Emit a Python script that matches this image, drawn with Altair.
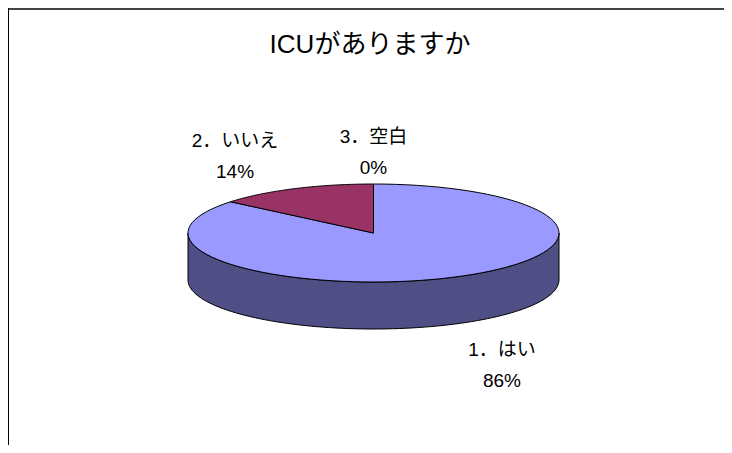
import math
import altair as alt
import pandas as pd

# ---- data ----
categories = ["1．はい", "2．いいえ", "3．空白"]
values = [86, 14, 0]
top_colors = ["#9999FF", "#993366", "#FFFFCC"]
side_colors = ["#4F4F86", "#4D1A33", "#80806A"]
title_text = "ICUがありますか"

# ---- layout / style ----
W, H = 716, 437
PX = 185.5          # pixels per unit radius
CX, CY = 365.5, 225  # pie centre in view pixels
TILT = 49 / PX
DEPTH = 47 / PX
N = 90
FONT = "Liberation Sans, Arial, 'Noto Sans CJK JP'"
LABEL_SIZE = 19
LINE_H = 31

total = sum(values)
rows = []
labels = []
start = 0.0
shape_id = 0


def pt(a):
    r = math.radians(a)
    return math.sin(r), math.cos(r) * TILT


def text_w(s):
    w = 0
    for ch in s:
        w += 20 if ord(ch) > 0x2E80 else 11
    return w


for cat, v, ct, cs in zip(categories, values, top_colors, side_colors):
    end = start + 360.0 * v / total
    # side wall (front half only)
    s, e = max(start, 90.0), min(end, 270.0)
    if e > s:
        arc = [s + (e - s) * k / N for k in range(N + 1)]
        pts = [pt(a) for a in arc] + [(x, y - DEPTH) for x, y in (pt(a) for a in reversed(arc))]
        pts.append(pts[0])
        for i, (x, y) in enumerate(pts):
            rows.append(dict(shape=f"s{shape_id}", i=i, x=x, y=y, fill=cs, layer=0))
        shape_id += 1
    # top face
    if end > start:
        arc = [start + (end - start) * k / N for k in range(N + 1)]
        pts = [(0.0, 0.0)] + [pt(a) for a in arc] + [(0.0, 0.0)]
        for i, (x, y) in enumerate(pts):
            rows.append(dict(shape=f"t{shape_id}", i=i, x=x, y=y, fill=ct, layer=1))
        shape_id += 1
    # label (anchor = first line)
    mid = (start + end) / 2
    ex, ey = pt(mid)
    c = math.cos(math.radians(mid))
    front = c < 0
    if front:
        ey -= DEPTH
    sn = math.sin(math.radians(mid))
    sx = 0 if abs(sn) < 0.05 else (1 if sn > 0 else -1)
    hw = text_w(cat) / 2
    lx = ex + sx * (14 + hw) / PX
    ly = ey + (-41 if front else 32) / PX + (LINE_H / 2) / PX
    labels.append(dict(x=lx, y=ly, text=f"{cat}\n{round(100 * v / total)}%"))
    start = end

df = pd.DataFrame(rows)
lab = pd.DataFrame(labels)

xs = alt.Scale(domain=[-CX / PX, (W - CX) / PX], nice=False, zero=False)
ys = alt.Scale(domain=[-(H - CY) / PX, CY / PX], nice=False, zero=False)


def faces(d):
    return alt.Chart(d).mark_line(
        filled=True, stroke="black", strokeWidth=1, strokeJoin="round"
    ).encode(
        x=alt.X("x:Q", scale=xs, axis=None),
        y=alt.Y("y:Q", scale=ys, axis=None),
        detail="shape:N",
        order="i:Q",
        color=alt.Color("fill:N", scale=None),
    )


sides = faces(df[df.layer == 0])
tops = faces(df[df.layer == 1])

text = alt.Chart(lab).mark_text(
    font=FONT, fontSize=LABEL_SIZE, lineBreak="\n", lineHeight=LINE_H,
    align="center", baseline="middle", color="black"
).encode(
    x=alt.X("x:Q", scale=xs, axis=None),
    y=alt.Y("y:Q", scale=ys, axis=None),
    text="text:N",
)
title = alt.Chart(pd.DataFrame({"t": [title_text]})).mark_text(
    font=FONT, fontSize=26, align="center", baseline="middle", color="black"
).encode(x=alt.value(362), y=alt.value(37), text="t:N")

top_border = alt.Chart(lab).mark_rule(color="#444444", strokeWidth=2).encode(
    x=alt.value(0), x2=alt.value(W), y=alt.value(1)
)
left_border = alt.Chart(lab).mark_rule(color="black", strokeWidth=1).encode(
    x=alt.value(0.5), y=alt.value(0), y2=alt.value(H)
)

chart = alt.layer(sides, tops, text, title, top_border, left_border).properties(
    width=W, height=H,
    padding=0,
    autosize=alt.AutoSizeParams(type="none"),
).configure_view(stroke=None)

chart.save("out.html", embed_options={"renderer": "svg", "actions": False})
